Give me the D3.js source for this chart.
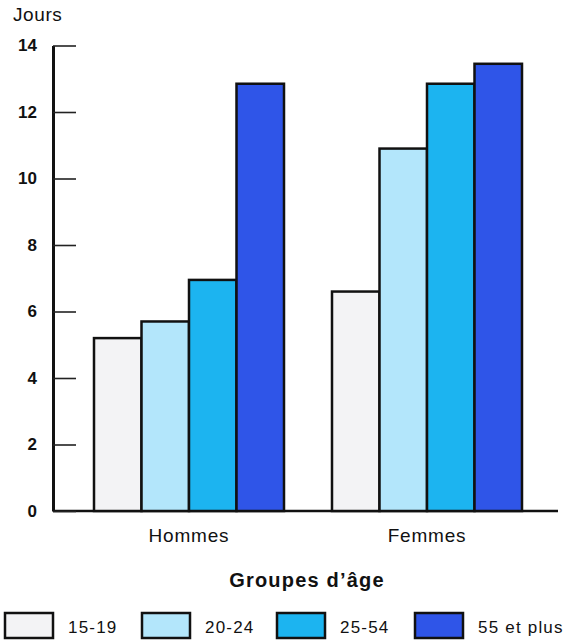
<!DOCTYPE html>
<html>
<head>
<meta charset="utf-8">
<script src="https://cdn.jsdelivr.net/npm/d3@7/dist/d3.min.js"></script>
<style>
  html, body { margin: 0; padding: 0; background: #fff; }
  svg { display: block; font-family: "Liberation Sans", Arial, Helvetica, sans-serif; }
</style>
</head>
<body>
<svg id="chart" width="571" height="641"></svg>
<script>
const groups = ["Hommes", "Femmes"];
const series = ["15-19", "20-24", "25-54", "55 et plus"];
const hommes = [5.2, 5.7, 6.95, 12.85];
const femmes = [6.6, 10.9, 12.85, 13.45];
const yTicks = [0, 2, 4, 6, 8, 10, 12, 14];
const colors = ["#f3f3f5", "#b3e6fb", "#1cb4f0", "#2f55e8"];
const yTitle = "Jours";
const xTitle = "Groupes d\u2019âge";

const values = { "Hommes": hommes, "Femmes": femmes };
const svg = d3.select("#chart");

const y = d3.scaleLinear().domain([0, 14]).range([511, 45.5]);
const x0 = d3.scaleBand().domain(groups).range([94, 522]).paddingInner(48 / 238).paddingOuter(0);
const x1 = d3.scaleBand().domain(series).range([0, x0.bandwidth()]).padding(0);
const color = d3.scaleOrdinal().domain(series).range(colors);

// baseline
svg.append("line")
  .attr("x1", 53).attr("x2", 558)
  .attr("y1", y(0)).attr("y2", y(0))
  .attr("stroke", "#111").attr("stroke-width", 2.5);

// bars
const g = svg.append("g");
groups.forEach(gr => {
  series.forEach((s, i) => {
    const v = values[gr][i];
    g.append("rect")
      .attr("x", x0(gr) + x1(s))
      .attr("y", y(v))
      .attr("width", x1.bandwidth())
      .attr("height", y(0) - y(v))
      .attr("fill", color(s))
      .attr("stroke", "#111")
      .attr("stroke-width", 2.5);
  });
});

// y axis
const yAxis = d3.axisLeft(y).tickValues(yTicks).tickSizeInner(-23).tickSizeOuter(0).tickPadding(16);
const ya = svg.append("g").attr("transform", "translate(53,0)").call(yAxis);
ya.select(".domain").attr("stroke", "#111").attr("stroke-width", 3);
ya.selectAll(".tick line").attr("stroke", "#222").attr("stroke-width", 1.6);
ya.selectAll(".tick text")
  .attr("fill", "#111")
  .style("font-size", "17px")
  .style("font-weight", "bold")
  .style("font-family", "'Liberation Sans', Arial, sans-serif");

// y title
svg.append("text").attr("x", 13).attr("y", 21)
  .style("font-size", "19px").style("letter-spacing", "0.6px")
  .attr("fill", "#111").text(yTitle);

// group labels
groups.forEach(gr => {
  svg.append("text")
    .attr("x", x0(gr) + x0.bandwidth() / 2)
    .attr("y", 542)
    .attr("text-anchor", "middle")
    .style("font-size", "19px").style("letter-spacing", "0.8px")
    .attr("fill", "#111")
    .text(gr);
});

// x title
svg.append("text").attr("x", 307).attr("y", 587)
  .attr("text-anchor", "middle")
  .style("font-size", "20px").style("font-weight", "bold").style("letter-spacing", "1.2px")
  .attr("fill", "#111").text(xTitle);

// legend
const legendX = [5, 142, 277, 415];
const leg = svg.append("g");
series.forEach((s, i) => {
  leg.append("rect")
    .attr("x", legendX[i]).attr("y", 613)
    .attr("width", 48).attr("height", 25)
    .attr("fill", color(s)).attr("stroke", "#111").attr("stroke-width", 2.5);
  leg.append("text")
    .attr("x", legendX[i] + 63).attr("y", 633)
    .style("font-size", "17px").style("letter-spacing", "1.2px")
    .attr("fill", "#111").text(s);
});
</script>
</body>
</html>
